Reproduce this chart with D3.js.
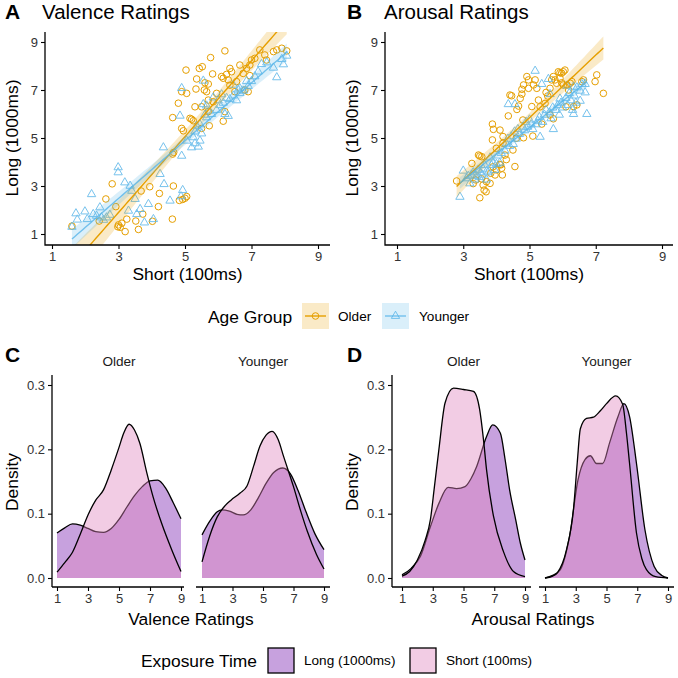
<!DOCTYPE html>
<html>
<head>
<meta charset="utf-8">
<script src="https://d3js.org/d3.v7.min.js"></script>
<style>
  body { margin: 0; background: #fff; }
  text { font-family: "Liberation Sans", Arial, sans-serif; }
</style>
</head>
<body>
<svg width="678" height="678"></svg>
<script>
// ---------- data ----------
const ageGroups = ["Older", "Younger"];
const exposures = ["Long (1000ms)", "Short (100ms)"];
const ratingTicks = [1, 3, 5, 7, 9];
const densityTicks = [0.0, 0.1, 0.2, 0.3];

// per-stimulus mean ratings: [short (100ms), long (1000ms)]
const valenceOlder = [
  [1.6,1.33],[2.42,1.54],[2.62,2.46],[2.81,3.09],[2.92,2.14],[3.0,1.38],[3.05,1.28],[3.1,1.45],
  [2.98,1.3],[3.2,1.1],[3.25,1.62],[3.52,1.54],[3.6,1.19],[3.68,2.79],[3.73,1.83],[3.94,2.97],
  [4.02,1.53],[4.2,2.14],[4.23,2.69],[4.65,3.0],[4.62,1.62],[4.83,2.4],[4.93,2.44],[5.0,2.49],
  [5.05,2.56],[4.63,4.33],[4.66,4.4],
  [4.63,5.85],[5.03,7.83],[4.8,6.45],[4.9,6.93],[5.05,6.86],[5.15,5.82],[5.2,5.78],[5.25,5.72],
  [4.9,5.4],[4.95,5.3],[5.3,6.3],[5.35,7.46],[5.33,7.04],[5.43,7.9],[5.52,7.97],[5.58,7.0],
  [5.65,6.93],[5.6,7.3],[5.7,7.25],[5.77,8.35],[5.83,7.67],[5.7,6.1],[5.73,5.51],[5.5,5.4],
  [6.1,7.56],[6.15,7.49],[6.25,7.65],[6.35,7.9],[6.2,6.1],[6.15,5.7],[6.2,8.63],[6.4,7.76],
  [6.55,7.35],[6.65,8.04],[6.75,7.69],[6.85,7.9],[6.95,8.04],[7.0,8.25],[7.1,8.32],[7.25,8.67],
  [7.4,8.46],[7.45,8.25],[7.66,8.6],[7.76,8.67],[7.91,8.74],[8.06,8.63],[6.8,7.0],[6.9,6.93],
  [5.7,6.58],[5.5,6.3],[5.95,6.86],[5.85,6.51],[6.35,7.2],[6.5,6.93],[6.3,7.42],[6.95,7.6]
];
const valenceYounger = [
  [1.6,1.33],[1.72,1.89],[1.76,1.63],[1.99,1.97],[2.06,1.65],[2.19,2.69],[2.24,1.86],[2.34,1.79],
  [2.44,2.14],[2.49,1.72],[2.64,1.72],[2.74,1.83],[2.99,3.81],[2.99,3.6],[3.19,3.18],[3.35,3.04],
  [3.4,2.83],[3.5,2.49],[3.3,2.0],[3.55,1.86],[3.65,2.07],[3.78,1.51],[3.9,2.28],[4.05,1.65],
  [4.25,3.53],[4.35,4.64],[4.37,3.11],[4.55,2.42],[4.9,4.29],[4.93,2.86],[4.88,2.6],[2.55,1.62],
  [4.85,5.96],[4.9,7.11],[5.05,4.92],[5.2,4.64],[5.25,5.06],[5.3,4.81],[5.4,4.67],[5.45,4.92],
  [5.5,5.22],[5.35,5.54],[5.55,7.42],[5.55,6.44],[5.65,6.38],[5.73,6.17],[5.65,5.89],[5.8,6.03],
  [5.85,6.72],[5.95,6.2],[6.05,6.4],[6.15,6.5],[6.25,6.7],[6.35,6.65],[6.45,6.8],[6.55,6.6],
  [6.65,6.9],[6.2,6.03],[6.45,7.25],[6.65,7.1],[6.75,7.0],[6.9,7.2],[7.0,7.4],[7.1,7.6],
  [7.3,8.11],[7.46,8.18],[7.66,7.96],[7.76,7.56],[7.91,8.32],[7.96,8.1],[8.06,8.46],[6.3,5.95],
  [6.1,6.85],[5.3,5.3],[5.45,5.6],[5.6,6.0],[6.0,6.6],[6.85,7.4],[7.2,7.8],[6.6,7.05]
];
const arousalOlder = [
  [2.8,3.21],[3.26,3.94],[3.38,3.25],[3.46,4.29],[3.5,4.25],[3.56,4.22],[3.5,2.51],[3.6,3.04],
  [3.63,2.83],[3.69,2.76],[3.7,3.18],[3.81,3.11],[3.83,3.53],[3.88,5.58],[3.91,5.36],[3.88,4.92],
  [3.96,3.46],[4.0,3.67],[4.0,4.57],[4.11,5.33],[4.13,3.88],[4.16,3.74],[4.18,3.46],[4.2,5.06],
  [4.2,4.78],[4.26,4.29],[4.36,5.92],[4.41,6.79],[4.46,6.76],[4.56,3.81],[4.6,4.99],[4.62,6.19],
  [4.67,6.33],[4.72,6.65],[4.77,6.83],[4.77,7.03],[4.82,7.21],[4.8,5.75],[4.82,5.01],[4.92,7.56],
  [4.97,7.42],[4.97,7.07],[5.07,6.31],[5.1,5.08],[5.12,7.21],[5.17,7.42],[5.22,7.07],[5.27,6.58],
  [5.32,6.3],[5.37,5.58],[5.47,6.44],[5.62,5.96],[5.72,5.8],[5.62,7.07],[5.67,7.42],[5.72,7.56],
  [5.77,7.42],[5.82,7.28],[5.87,7.76],[5.92,7.72],[5.97,7.7],[6.02,7.76],[6.07,7.83],[5.92,7.49],
  [5.97,7.3],[6.02,7.21],[6.13,7.21],[6.18,7.0],[6.23,7.28],[6.28,7.35],[6.33,6.31],[6.43,6.38],
  [6.58,7.35],[6.63,7.42],[7.03,7.63],[6.98,7.35],[7.23,6.86],[5.5,6.9],[5.55,6.75],[6.1,6.3],
  [4.3,4.1],[4.5,4.5],[4.1,3.9],[3.9,3.8],[3.3,3.1],[3.55,3.3]
];
const arousalYounger = [
  [2.9,2.58],[3.0,3.67],[3.1,3.35],[3.15,3.45],[3.2,3.14],[3.25,3.5],[3.3,3.6],[3.35,3.3],
  [3.4,3.45],[3.45,3.7],[3.48,3.4],[3.52,3.6],[3.57,3.5],[3.6,3.75],[3.65,3.9],[3.71,3.67],
  [3.75,3.6],[3.81,4.22],[3.85,3.9],[3.9,4.0],[4.0,3.95],[4.05,4.3],[4.15,4.4],[4.26,4.5],
  [4.3,4.8],[4.35,5.0],[4.4,4.7],[4.45,5.1],[4.51,4.78],[4.55,5.3],[4.6,5.0],[4.65,5.4],
  [4.7,5.2],[4.8,5.5],[4.85,5.35],[4.9,5.7],[4.95,5.5],[5.0,5.8],[5.05,5.6],[5.1,5.4],
  [5.2,5.6],[5.25,5.75],[5.3,5.9],[5.4,5.7],[5.45,6.0],[5.5,6.2],[5.6,6.1],[5.65,5.85],
  [5.7,6.3],[5.8,6.2],[5.85,6.4],[5.9,6.0],[5.95,6.5],[6.0,6.3],[6.1,6.7],[6.15,6.4],
  [6.2,6.9],[6.25,6.6],[6.3,6.2],[6.35,6.8],[6.4,6.5],[6.73,6.03],[4.36,6.44],[4.56,6.44],
  [5.17,7.83],[5.37,7.28],[5.32,5.08],[5.57,7.49],[5.72,5.4],[6.13,7.21],[6.33,7.17],[6.53,7.0],
  [6.68,7.28],[6.53,6.58],[6.33,6.03],[6.43,7.14],[6.58,7.28],[6.68,6.93],[5.62,6.86],[5.92,6.67],
  [3.7,3.3],[3.95,3.7],[4.1,4.0]
];

// density of ratings per exposure time: [rating, density]
const valenceDensOlderLong = [[1,0.070],[1.5,0.078],[2,0.084],[2.5,0.082],[3,0.077],[3.5,0.072],[4,0.071],[4.5,0.077],[5,0.091],[5.5,0.110],[6,0.128],[6.5,0.142],[7,0.151],[7.5,0.152],[8,0.140],[8.5,0.117],[9,0.092]];
const valenceDensOlderShort = [[1,0.009],[1.5,0.024],[2,0.040],[2.5,0.068],[3,0.098],[3.5,0.121],[4,0.137],[4.5,0.168],[5,0.203],[5.3,0.225],[5.65,0.239],[6,0.230],[6.35,0.209],[6.8,0.163],[7.2,0.126],[7.75,0.085],[8.4,0.044],[9,0.010]];
const valenceDensYoungerLong = [[1,0.067],[1.5,0.088],[2,0.103],[2.3,0.106],[2.8,0.104],[3.3,0.099],[3.7,0.098],[4.2,0.106],[4.7,0.125],[5.2,0.147],[5.7,0.164],[6.3,0.171],[6.8,0.162],[7.3,0.136],[7.8,0.104],[8.4,0.069],[9,0.044]];
const valenceDensYoungerShort = [[1,0.025],[1.5,0.065],[2,0.095],[2.5,0.112],[2.9,0.121],[3.5,0.132],[3.95,0.143],[4.4,0.175],[4.8,0.205],[5.2,0.222],[5.6,0.228],[6,0.215],[6.35,0.189],[7,0.142],[7.5,0.102],[7.9,0.073],[8.5,0.037],[9,0.014]];
const arousalDensOlderLong = [[1,0.005],[1.6,0.015],[2.2,0.034],[2.85,0.080],[3.4,0.116],[4.0,0.141],[4.55,0.139],[5.1,0.142],[5.5,0.155],[5.85,0.173],[6.5,0.220],[6.9,0.238],[7.4,0.225],[7.7,0.185],[8.0,0.137],[8.4,0.090],[8.7,0.054],[9,0.028]];
const arousalDensOlderShort = [[1,0.003],[1.5,0.010],[2,0.028],[2.5,0.058],[2.85,0.091],[3.1,0.140],[3.4,0.200],[3.8,0.272],[4.35,0.295],[5.0,0.293],[5.65,0.290],[6.05,0.262],[6.3,0.215],[6.5,0.168],[6.95,0.096],[7.6,0.041],[8.25,0.010],[9,0.002]];
const arousalDensYoungerLong = [[1,0.0],[1.5,0.004],[2.0,0.013],[2.6,0.065],[3.15,0.153],[3.6,0.184],[3.95,0.190],[4.35,0.178],[4.75,0.178],[5.2,0.210],[5.75,0.251],[6.13,0.271],[6.5,0.251],[6.95,0.178],[7.5,0.075],[8.1,0.018],[8.6,0.004],[9,0.0]];
const arousalDensYoungerShort = [[1,0.0],[1.5,0.003],[1.8,0.008],[2.4,0.044],[2.85,0.106],[3.1,0.180],[3.3,0.232],[3.7,0.248],[4.15,0.250],[4.6,0.260],[5.0,0.271],[5.6,0.283],[6.05,0.270],[6.3,0.225],[6.5,0.178],[6.95,0.070],[7.3,0.030],[7.6,0.013],[8.2,0.002],[9,0.0]];

// ---------- styles ----------
const ageColor = { Older: "#E69F00", Younger: "#56B4E9" };
const ageOpacity = { Older: 1, Younger: 0.8 };
const expColor = { "Long (1000ms)": "#7A1FB0", "Short (100ms)": "#E085BE" };
const expAlpha = 0.42;
const tickColor = "#333";

const svg = d3.select("svg");
const defs = svg.append("defs");

function styleAxis(g) {
  g.select(".domain").remove();
  g.selectAll(".tick line").attr("stroke", "#000").attr("stroke-width", 1.1);
  g.selectAll(".tick text").attr("fill", tickColor).attr("font-size", 13)
    .attr("font-family", "Liberation Sans, Arial, sans-serif");
}

function panelTitle(x, y, letter, title) {
  svg.append("text").attr("x", x).attr("y", y).attr("font-size", 21)
    .attr("font-weight", "bold").text(letter);
  if (title) svg.append("text").attr("x", x + 37).attr("y", y).attr("font-size", 20.5).text(title);
}

// simple least squares with 95% band, as geom_smooth(method = "lm")
function lmFit(pts) {
  const n = pts.length;
  const mx = d3.mean(pts, d => d[0]), my = d3.mean(pts, d => d[1]);
  const sxx = d3.sum(pts, d => (d[0] - mx) ** 2);
  const sxy = d3.sum(pts, d => (d[0] - mx) * (d[1] - my));
  const b = sxy / sxx, a = my - b * mx;
  const s = Math.sqrt(d3.sum(pts, d => (d[1] - a - b * d[0]) ** 2) / (n - 2));
  const [lo, hi] = d3.extent(pts, d => d[0]);
  return d3.range(0, 81).map(i => {
    const x = lo + (hi - lo) * i / 80;
    const se = s * Math.sqrt(1 / n + (x - mx) ** 2 / sxx);
    const yh = a + b * x;
    return { x, y: yh, lo: yh - 1.98 * se, hi: yh + 1.98 * se };
  });
}

// ---------- scatter panels A, B ----------
const scatterPanels = [
  { letter: "A", title: "Valence Ratings", data: { Older: valenceOlder, Younger: valenceYounger },
    left: 45, right: 330, xr: [52, 318], titleX: 5 },
  { letter: "B", title: "Arousal Ratings", data: { Older: arousalOlder, Younger: arousalYounger },
    left: 385, right: 673, xr: [397, 662], titleX: 347 }
];
const scTop = 32, scBottom = 245;

scatterPanels.forEach((p, pi) => {
  const x = d3.scaleLinear().domain([1, 9]).range(p.xr);
  const y = d3.scaleLinear().domain([1, 9]).range([234, 42]);

  defs.append("clipPath").attr("id", "clip" + pi).append("rect")
    .attr("x", p.left).attr("y", scTop).attr("width", p.right - p.left).attr("height", scBottom - scTop);
  const g = svg.append("g").attr("clip-path", `url(#clip${pi})`);

  ageGroups.forEach(a => {
    const pts = g.append("g").attr("opacity", ageOpacity[a]);
    if (a === "Older") {
      pts.selectAll("circle").data(p.data[a]).join("circle")
        .attr("cx", d => x(d[0])).attr("cy", d => y(d[1])).attr("r", 3.3)
        .attr("fill", "none").attr("stroke", ageColor[a]).attr("stroke-width", 1);
    } else {
      pts.selectAll("path").data(p.data[a]).join("path")
        .attr("d", d3.symbol(d3.symbolTriangle, 30))
        .attr("transform", d => `translate(${x(d[0])},${y(d[1]) + 0.8})`)
        .attr("fill", "none").attr("stroke", ageColor[a]).attr("stroke-width", 1);
    }
  });

  ageGroups.forEach(a => {
    const fit = lmFit(p.data[a]);
    g.append("path").datum(fit)
      .attr("d", d3.area().x(d => x(d.x)).y0(d => y(d.lo)).y1(d => y(d.hi)))
      .attr("fill", ageColor[a]).attr("fill-opacity", 0.22);
    g.append("path").datum(fit)
      .attr("d", d3.line().x(d => x(d.x)).y(d => y(d.y)))
      .attr("fill", "none").attr("stroke", ageColor[a]).attr("stroke-width", 1.4)
      .attr("stroke-opacity", ageOpacity[a]);
  });

  // axes
  svg.append("g").attr("transform", `translate(${p.left},0)`)
    .call(d3.axisLeft(y).tickValues(ratingTicks).tickSize(4).tickPadding(3)).call(styleAxis);
  svg.append("g").attr("transform", `translate(0,${scBottom})`)
    .call(d3.axisBottom(x).tickValues(ratingTicks).tickSize(4).tickPadding(3)).call(styleAxis);
  svg.append("path").attr("d", `M${p.left},${scTop}V${scBottom}H${p.right}`)
    .attr("fill", "none").attr("stroke", "#000").attr("stroke-width", 1.3);

  svg.append("text").attr("x", (p.left + p.right) / 2).attr("y", 280)
    .attr("text-anchor", "middle").attr("font-size", 17.4).text("Short (100ms)");
  svg.append("text").attr("transform", `translate(${p.left - 27},138) rotate(-90)`)
    .attr("text-anchor", "middle").attr("font-size", 17.4).text("Long (1000ms)");
  panelTitle(p.titleX, 19, p.letter, p.title);
});

// Age Group legend
svg.append("text").attr("x", 208).attr("y", 323).attr("font-size", 17.4).text("Age Group");
[{ a: "Older", bx: 302, tx: 338 }, { a: "Younger", bx: 382, tx: 419 }].forEach(k => {
  const kg = svg.append("g").attr("transform", `translate(${k.bx},303)`);
  kg.append("rect").attr("width", 27).attr("height", 26).attr("fill", ageColor[k.a]).attr("fill-opacity", 0.22);
  kg.append("line").attr("x1", 3).attr("x2", 24).attr("y1", 13).attr("y2", 13)
    .attr("stroke", ageColor[k.a]).attr("stroke-width", 1.4).attr("stroke-opacity", ageOpacity[k.a]);
  if (k.a === "Older") {
    kg.append("circle").attr("cx", 13.5).attr("cy", 13).attr("r", 3.3)
      .attr("fill", "none").attr("stroke", ageColor[k.a]);
  } else {
    kg.append("path").attr("d", d3.symbol(d3.symbolTriangle, 30))
      .attr("transform", "translate(13.5,13)").attr("fill", "none")
      .attr("stroke", ageColor[k.a]).attr("stroke-opacity", ageOpacity[k.a]);
  }
  svg.append("text").attr("x", k.tx).attr("y", 321).attr("font-size", 13.6).text(k.a);
});

// ---------- density panels C, D ----------
const densityPanels = [
  { letter: "C", xTitle: "Valence Ratings", axisX: 52, titleX: 5,
    facets: [
      { age: "Older", left: 52, right: 184, xr: [57, 181], long: valenceDensOlderLong, short: valenceDensOlderShort },
      { age: "Younger", left: 196, right: 330, xr: [202, 324], long: valenceDensYoungerLong, short: valenceDensYoungerShort }
    ] },
  { letter: "D", xTitle: "Arousal Ratings", axisX: 392, titleX: 347,
    facets: [
      { age: "Older", left: 392, right: 531, xr: [402, 525], long: arousalDensOlderLong, short: arousalDensOlderShort },
      { age: "Younger", left: 539, right: 674, xr: [545, 668], long: arousalDensYoungerLong, short: arousalDensYoungerShort }
    ] }
];
const dTop = 375, dBottom = 587;
const yD = d3.scaleLinear().domain([0, 0.3]).range([578, 385]);

densityPanels.forEach(p => {
  p.facets.forEach(f => {
    const x = d3.scaleLinear().domain([1, 9]).range(f.xr);
    [["Long (1000ms)", f.long], ["Short (100ms)", f.short]].forEach(([e, vals]) => {
      svg.append("path").datum(vals)
        .attr("d", d3.area().curve(d3.curveMonotoneX).x(d => x(d[0])).y0(yD(0)).y1(d => yD(d[1])))
        .attr("fill", expColor[e]).attr("fill-opacity", expAlpha);
      svg.append("path").datum(vals)
        .attr("d", d3.line().curve(d3.curveMonotoneX).x(d => x(d[0])).y(d => yD(d[1])))
        .attr("fill", "none").attr("stroke", "#000").attr("stroke-width", 1.3);
    });
    svg.append("g").attr("transform", `translate(0,${dBottom})`)
      .call(d3.axisBottom(x).tickValues(ratingTicks).tickSize(4).tickPadding(3)).call(styleAxis);
    svg.append("line").attr("x1", f.left).attr("x2", f.right).attr("y1", dBottom).attr("y2", dBottom)
      .attr("stroke", "#000").attr("stroke-width", 1.3);
    svg.append("text").attr("x", (f.xr[0] + f.xr[1]) / 2).attr("y", 366)
      .attr("text-anchor", "middle").attr("font-size", 13.6).attr("fill", "#1a1a1a").text(f.age);
  });

  svg.append("g").attr("transform", `translate(${p.axisX},0)`)
    .call(d3.axisLeft(yD).tickValues(densityTicks).tickFormat(d3.format(".1f")).tickSize(4).tickPadding(3))
    .call(styleAxis);
  svg.append("line").attr("x1", p.axisX).attr("x2", p.axisX).attr("y1", dTop).attr("y2", dBottom)
    .attr("stroke", "#000").attr("stroke-width", 1.3);

  const fl = p.facets[0].left, fr = p.facets[1].right;
  svg.append("text").attr("x", (fl + fr) / 2).attr("y", 625)
    .attr("text-anchor", "middle").attr("font-size", 17.4).text(p.xTitle);
  svg.append("text").attr("transform", `translate(${p.axisX - 34},482) rotate(-90)`)
    .attr("text-anchor", "middle").attr("font-size", 17.4).text("Density");
  panelTitle(p.titleX, 362, p.letter, null);
});

// Exposure Time legend
svg.append("text").attr("x", 257).attr("y", 667).attr("text-anchor", "end")
  .attr("font-size", 17.4).text("Exposure Time");
[{ e: "Long (1000ms)", bx: 268, tx: 304 }, { e: "Short (100ms)", bx: 410, tx: 446 }].forEach(k => {
  svg.append("rect").attr("x", k.bx).attr("y", 648).attr("width", 26).attr("height", 25)
    .attr("fill", "#fff").attr("stroke", "none");
  svg.append("rect").attr("x", k.bx).attr("y", 648).attr("width", 26).attr("height", 25)
    .attr("fill", expColor[k.e]).attr("fill-opacity", expAlpha)
    .attr("stroke", "#000").attr("stroke-width", 1.3);
  svg.append("text").attr("x", k.tx).attr("y", 665).attr("font-size", 13.6).text(k.e);
});
</script>
</body>
</html>
